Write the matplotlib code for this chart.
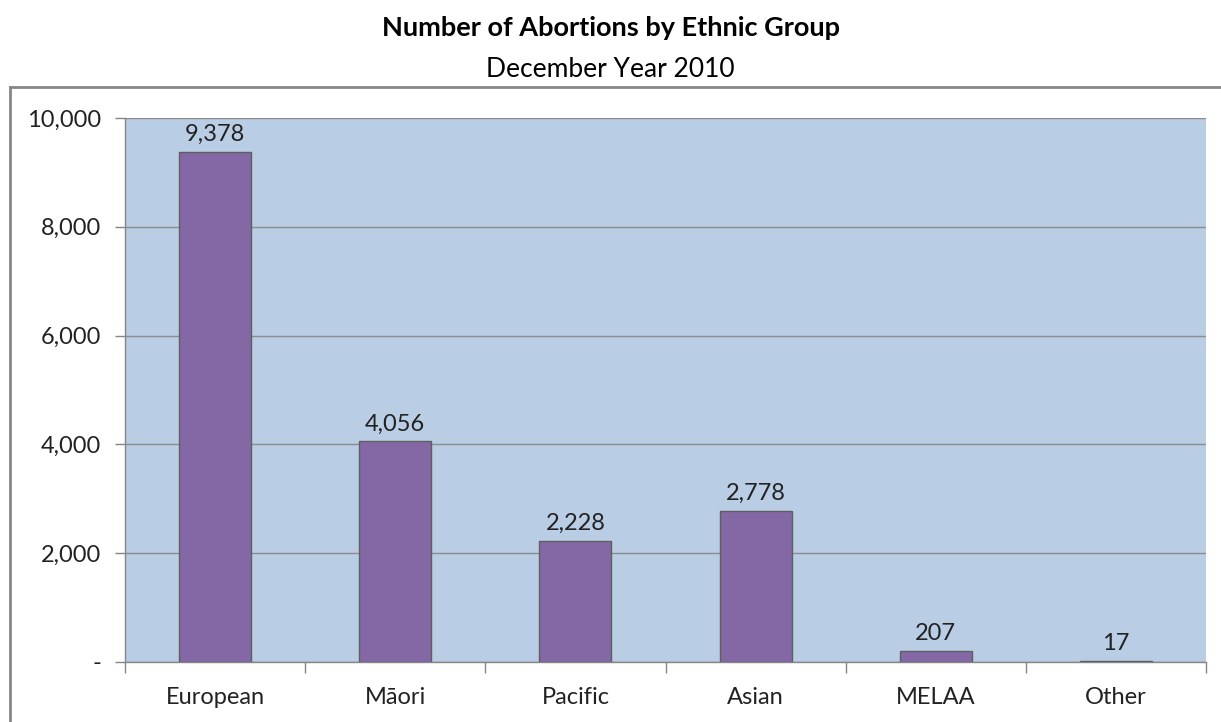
import matplotlib
matplotlib.use("Agg")
import matplotlib.pyplot as plt
from matplotlib.lines import Line2D
from matplotlib.ticker import FuncFormatter
import numpy as np

plt.rcParams['font.family'] = ['Lato', 'DejaVu Sans']

groups = ["European", "Māori", "Pacific", "Asian", "MELAA", "Other"]
counts = [9378, 4056, 2228, 2778, 207, 17]
yticks = [0, 2000, 4000, 6000, 8000, 10000]

W, H = 1221, 722
fig = plt.figure(figsize=(W / 100, H / 100), dpi=100)

# outer chart frame (top and left edges only visible)
fy = (H - 87) / H
fx = 10 / W
fig.add_artist(Line2D([fx, 1], [fy, fy], color="#868686", lw=2, transform=fig.transFigure))
fig.add_artist(Line2D([fx, fx], [0, fy], color="#868686", lw=2, transform=fig.transFigure))

fig.text(0.5, (H - 36) / H, "Number of Abortions by Ethnic Group", ha="center", va="baseline",
         fontsize=19.5, fontweight="bold")
fig.text(0.5, (H - 77) / H, "December Year 2010", ha="center", va="baseline", fontsize=19)

ax = fig.add_axes([125 / W, (H - 662) / H, 1081 / W, 544 / H])
ax.set_facecolor("#B9CDE5")

x = np.arange(len(groups))
bars = ax.bar(x, counts, width=0.4, color="#8468A6", edgecolor="#5F5F5F", linewidth=1, zorder=3)
for xi, v in zip(x, counts):
    ax.annotate(f"{v:,}", (xi, v), xytext=(0, 5), textcoords="offset points",
                ha="center", va="bottom", fontsize=17, color="#222222")

ax.set_xlim(-0.5, len(groups) - 0.5)
ax.set_ylim(0, 10000)
ax.set_yticks(yticks)
ax.yaxis.set_major_formatter(FuncFormatter(lambda v, p: "-" if v == 0 else f"{int(v):,}"))
ax.grid(axis="y", color="#8C8C8C", lw=1, zorder=1)

ax.set_xticks(x)
ax.set_xticklabels(groups)
ax.set_xticks(np.arange(-0.5, len(groups), 1), minor=True)
ax.tick_params(axis="x", which="major", length=0, pad=18, labelsize=17, labelcolor="#222222")
ax.tick_params(axis="x", which="minor", length=8, color="#868686", width=1)
ax.tick_params(axis="y", length=7, color="#868686", width=1, labelsize=17, pad=10,
               labelcolor="#222222")

for s in ["top", "right"]:
    ax.spines[s].set_visible(False)
for s in ["left", "bottom"]:
    ax.spines[s].set_color("#868686")
    ax.spines[s].set_linewidth(1)

fig.savefig("out.png", dpi=100)
